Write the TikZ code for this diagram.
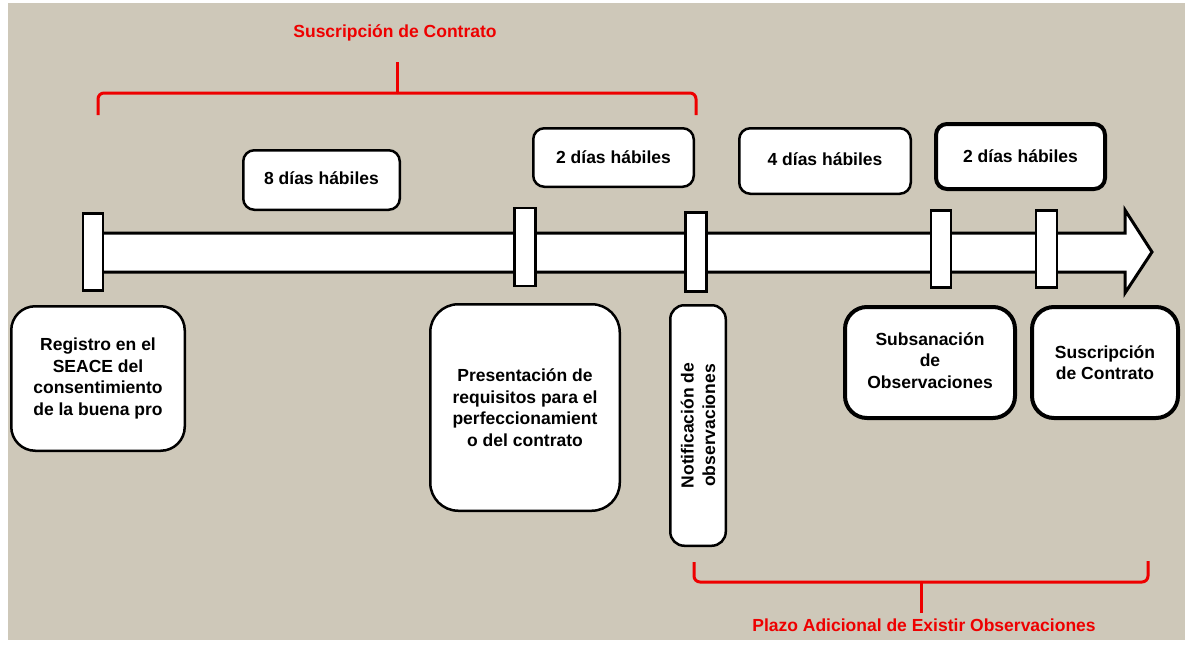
\documentclass[tikz,border=0pt]{standalone}
\usepackage{fontspec}
\setmainfont{Liberation Sans}
\definecolor{bgbeige}{RGB}{206,200,185}
\definecolor{bracered}{RGB}{238,0,0}
\begin{document}
\begin{tikzpicture}[x=1pt,y=-1pt,
 txt/.style={font=\fontsize{17.5}{21.5}\selectfont\bfseries, align=center},
 daybox/.style={txt, draw=black, fill=white, line width=2.5pt, rounded corners=11pt, inner sep=0pt},
 daythick/.style={daybox, line width=4pt},
 evbox/.style={txt, draw=black, fill=white, line width=2.5pt, rounded corners=22pt, inner sep=0pt},
 evthick/.style={evbox, line width=4pt},
 markbox/.style={draw=black, fill=white, line width=2.5pt, inner sep=0pt},
 barline/.style={draw=black, fill=white, line width=3pt, line join=miter},
 brace/.style={draw=bracered, line width=3pt, rounded corners=6pt},
 redlbl/.style={text=bracered, font=\fontsize{17.5}{21}\selectfont\bfseries, inner sep=0pt}
]
\useasboundingbox (0,0) rectangle (1189,645);
\fill[bgbeige] (8,3) rectangle (1185,640);

% timeline bar with arrow head
\draw[barline] (100,233) -- (1125,233) -- (1125,210) -- (1152,252) -- (1125,293) -- (1125,272) -- (100,272) -- cycle;

% markers on the timeline
\node[markbox, minimum width=20pt, minimum height=77pt] (m1) at (93,252) {};
\node[markbox, minimum width=21pt, minimum height=78pt] (m2) at (525,247) {};
\node[markbox, minimum width=21pt, minimum height=79pt] (m3) at (696,252) {};
\node[markbox, minimum width=20pt, minimum height=77pt] (m4) at (941,249) {};
\node[markbox, minimum width=21pt, minimum height=77pt] (m5) at (1046.5,249) {};

% duration boxes
\node[daybox, minimum width=156.5pt, minimum height=59.5pt] (d1) at (321.5,180) {\raisebox{4pt}{8 días hábiles}};
\node[daybox, minimum width=160.5pt, minimum height=58.5pt] (d2) at (613.5,157.5) {\raisebox{-2pt}{2 días hábiles}};
\node[daybox, minimum width=171.5pt, minimum height=65.5pt] (d3) at (825,161) {\raisebox{3pt}{4 días hábiles}};
\node[daythick, minimum width=169pt, minimum height=65pt] (d4) at (1020.5,156.5) {\raisebox{-2pt}{2 días hábiles}};

% event boxes
\node[evbox, rounded corners=24pt, minimum width=173.5pt, minimum height=144.5pt] (e1) at (98,378.5)
  {Registro en el\\SEACE del\\consentimiento\\de la buena pro};
\node[evbox, rounded corners=28pt, minimum width=189.5pt, minimum height=206.5pt] (e2) at (525,407.5)
  {Presentación de\\requisitos para el\\perfeccionamient\\o del contrato};
\node[evbox, rounded corners=14pt, rotate=90, minimum width=240.5pt, minimum height=55.5pt] (e3) at (698,425.5)
  {Notificación de\\observaciones};
\node[evthick, rounded corners=22pt, minimum width=170pt, minimum height=111pt] (e4) at (930,362.5)
  {\raisebox{-3pt}{\begin{tabular}{@{}c@{}}Subsanación\\de\\Observaciones\end{tabular}}};
\node[evthick, rounded corners=22pt, minimum width=146pt, minimum height=111pt] (e5) at (1105,362.5)
  {Suscripción\\de Contrato};

% top brace
\coordinate (tbl) at (98,115);
\coordinate (tbm) at (397,93);
\coordinate (tbr) at (696,115);
\coordinate (tbt) at (397,62);
\draw[brace] (tbl) -- (98,93) -- (tbm);
\draw[brace] (tbm) -- (696,93) -- (tbr);
\draw[brace] (tbm) -- (tbt);
\node[redlbl] (toplbl) at (395,33) {Suscripción de Contrato};

% bottom brace
\coordinate (bbl) at (694,562);
\coordinate (bbm) at (921,582);
\coordinate (bbr) at (1148,561);
\coordinate (bbt) at (921,613);
\draw[brace] (bbl) -- (694,582) -- (bbm);
\draw[brace] (bbm) -- (1148,582) -- (bbr);
\draw[brace] (bbm) -- (bbt);
\node[redlbl] (botlbl) at (924,625) {Plazo Adicional de Existir Observaciones};
\end{tikzpicture}
\end{document}
